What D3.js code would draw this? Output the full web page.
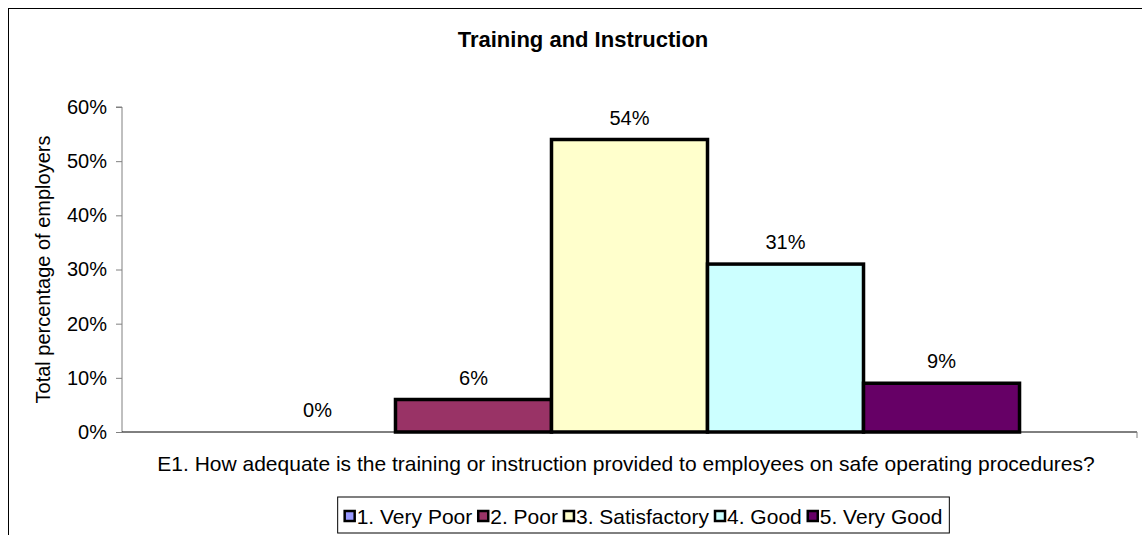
<!DOCTYPE html>
<html>
<head>
<meta charset="utf-8">
<script src="https://cdn.jsdelivr.net/npm/d3@7"></script>
<style>
  body { margin: 0; background: #fff; }
  svg { display: block; font-family: "Liberation Sans", Arial, sans-serif; }
</style>
</head>
<body>
<svg id="chart" width="1142" height="535"></svg>
<script>
const categories = ["E1. How adequate is the training or instruction provided to employees on safe operating procedures?"];
const seriesNames = ["1. Very Poor", "2. Poor", "3. Satisfactory", "4. Good", "5. Very Good"];
const seriesValues = [0.00, 0.06, 0.54, 0.31, 0.09];
const seriesLabels = ["0%", "6%", "54%", "31%", "9%"];
const seriesColors = ["#9999FF", "#993366", "#FFFFCC", "#CCFFFF", "#660066"];
const yTicks = [0, 0.1, 0.2, 0.3, 0.4, 0.5, 0.6];
const title = "Training and Instruction";
const yTitle = "Total percentage of employers";

const svg = d3.select("#chart");
const W = 1142, H = 535;

// outer chart border
svg.append("rect").attr("x", 8.5).attr("y", 8.5).attr("width", W + 20).attr("height", H + 20)
  .attr("fill", "#fff").attr("stroke", "#000").attr("stroke-width", 1);

const plot = { left: 122, right: 1137, top: 107, bottom: 432 };

const y = d3.scaleLinear().domain([0, 0.6]).range([plot.bottom, plot.top]);
const x0 = d3.scaleBand().domain(categories).range([plot.left, plot.right]).paddingOuter(0.1506).paddingInner(0);
const x1 = d3.scaleBand().domain(seriesNames).range([0, x0.bandwidth()]).padding(0);

// title
svg.append("text").attr("x", 583).attr("y", 47).attr("text-anchor", "middle")
  .attr("font-size", 22).attr("font-weight", "bold").text(title);

// y axis
const yAxis = d3.axisLeft(y).tickValues(yTicks).tickFormat(d3.format(".0%")).tickSize(6).tickPadding(9);
const gy = svg.append("g").attr("transform", `translate(${plot.left},0)`).call(yAxis);
gy.select(".domain").attr("stroke", "#808080").attr("d", `M-6,${plot.top}H0V${plot.bottom}`);
gy.selectAll(".tick line").attr("stroke", "#808080");
gy.selectAll(".tick text").attr("font-size", 20).attr("fill", "#000").attr("font-family", "Liberation Sans, Arial, sans-serif");

// y title
svg.append("text").attr("transform", `translate(50,${(plot.top + plot.bottom) / 2}) rotate(-90)`)
  .attr("text-anchor", "middle").attr("font-size", 20).text(yTitle);

// bars
const g = svg.append("g").attr("transform", `translate(${x0(categories[0])},0)`);
const data = seriesNames.map((s, i) => ({ s, v: seriesValues[i], label: seriesLabels[i], c: seriesColors[i] }));

g.selectAll("rect.bar").data(data.filter(d => d.v > 0)).join("rect").attr("class", "bar")
  .attr("x", d => x1(d.s)).attr("y", d => y(d.v))
  .attr("width", x1.bandwidth()).attr("height", d => y(0) - y(d.v))
  .attr("fill", d => d.c).attr("stroke", "#000").attr("stroke-width", 3.5);

// x axis
const xAxis = d3.axisBottom(x0).tickSize(0).tickFormat("");
const gx = svg.append("g").attr("transform", `translate(0,${plot.bottom})`).call(xAxis);
gx.select(".domain").attr("stroke", "#000").attr("d", `M${plot.left},0H${plot.right}`);
svg.append("line").attr("x1", plot.right).attr("x2", plot.right).attr("y1", plot.bottom).attr("y2", plot.bottom + 6)
  .attr("stroke", "#808080");

// data labels
g.selectAll("text.lbl").data(data).join("text").attr("class", "lbl")
  .attr("x", d => x1(d.s) + x1.bandwidth() / 2).attr("y", d => y(d.v) - 15)
  .attr("text-anchor", "middle").attr("font-size", 20).text(d => d.label);

// x title
svg.append("text").attr("x", 626).attr("y", 471).attr("text-anchor", "middle")
  .attr("font-size", 21).text(categories[0]);

// legend
const leg = svg.append("g");
const legBox = leg.append("rect").attr("fill", "#fff").attr("stroke", "#000").attr("stroke-width", 1);
let lx = 0;
const items = leg.selectAll("g.item").data(data).join("g").attr("class", "item");
items.each(function (d) {
  const it = d3.select(this);
  it.append("rect").attr("x", 1).attr("y", -13).attr("width", 10).attr("height", 10)
    .attr("fill", d.c).attr("stroke", "#000").attr("stroke-width", 2.5);
  const t = it.append("text").attr("x", 13).attr("y", 0).attr("font-size", 21).text(d.s);
  const w = t.node().getComputedTextLength();
  it.attr("transform", `translate(${lx},0)`);
  lx += 13 + w + 5;
});
const legW = lx + 8;
const legX = 643.5 - legW / 2 + 6, legY = 524;
leg.attr("transform", `translate(${legX},${legY})`);
legBox.attr("x", -6).attr("y", -27).attr("width", legW).attr("height", 36);
</script>
</body>
</html>
